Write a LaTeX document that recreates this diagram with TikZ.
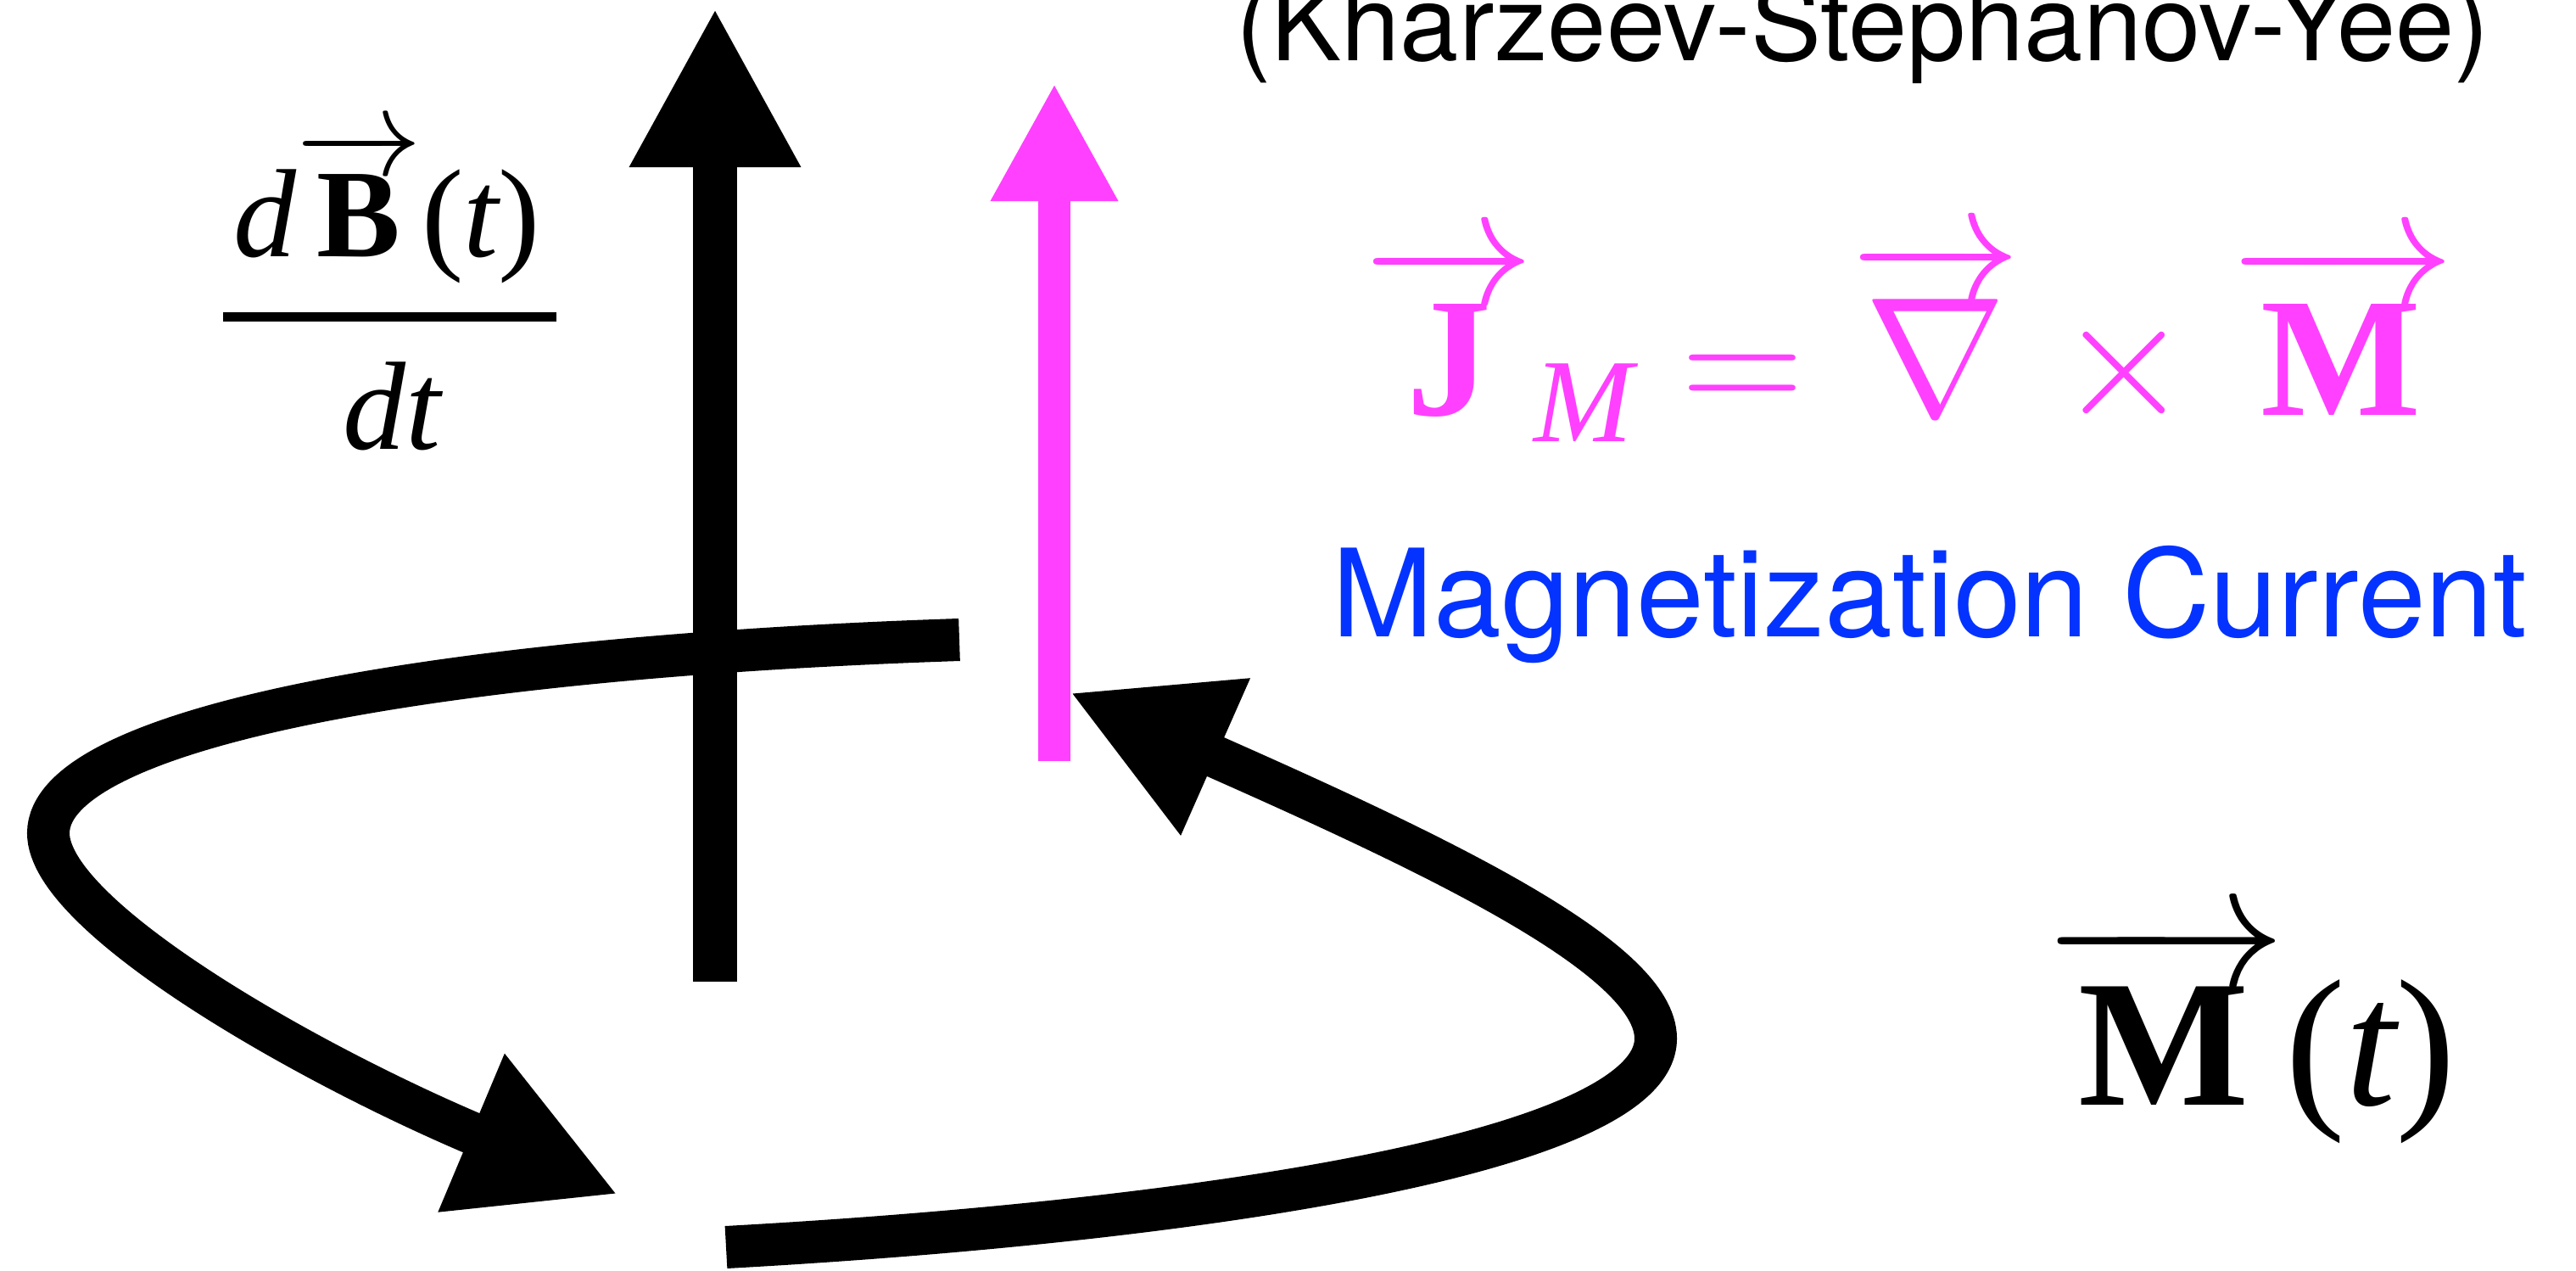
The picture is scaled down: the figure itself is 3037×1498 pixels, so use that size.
\RequirePackage{fix-cm}
\documentclass[tikz,border=0pt]{standalone}
\usepackage{amsmath}
\usepackage{fontspec}
\setmainfont{Liberation Serif}
\newfontfamily\heros{TeX Gyre Heros}
\usetikzlibrary{arrows.meta}
\definecolor{curpink}{RGB}{255,64,255}
\definecolor{curblue}{RGB}{4,51,255}

\begin{document}
\begin{tikzpicture}[
  x=0.01cm, y=-0.01cm,
  bfield/.style={line width=0.51cm, -{Triangle[length=1.88cm, width=1.88cm]}},
  jfield/.style={curpink, line width=0.375cm, -{Triangle[length=1.39cm, width=1.40cm]}},
  swirl/.style={line width=0.50cm, -{Triangle[length=1.88cm, width=1.88cm]}},
  fracbar/.style={line width=0.11cm},
  eq/.style={inner sep=0pt, anchor=base},
  lbl/.style={inner sep=0pt, anchor=base, font=\heros\fontsize{35.4}{40}\selectfont}
]
\useasboundingbox (0,0) rectangle (3037,1498);

% circulating field (two halves of the loop)
\coordinate (upR) at (1131,754);
\coordinate (lowL) at (729,1408);
\coordinate (lowS) at (856,1470);
\coordinate (upT) at (1261,816);
\draw[swirl] (upR) .. controls (500,775) and (57,860) .. (57,982)
  .. controls (57,1080) and (360,1253) .. (lowL);
\draw[swirl] (lowS) .. controls (1400,1440) and (1952,1360) .. (1952,1224)
  .. controls (1952,1130) and (1700,1010) .. (upT);

% vertical arrows
\coordinate (bbot) at (843,1157);
\coordinate (btop) at (843,9);
\draw[bfield] (bbot) -- (btop);
\coordinate (jbot) at (1243,897);
\coordinate (jtop) at (1243,98);
\draw[jfield] (jbot) -- (jtop);

% dB/dt
\node[eq, font=\fontsize{42.1}{48}\selectfont] (dBnum) at (456,303)
  {$\textit{d}\overrightarrow{\mkern2.3mu\textbf{B}\mkern2.3mu}\textup{(}\textit{t}\textup{)}$};
\node[eq, font=\fontsize{42.1}{48}\selectfont] (dBden) at (462,530) {$\textit{dt}$};
\draw[fracbar] (263,374) -- (656,374);

% J_M = curl M
\node[eq, text=curpink, font=\fontsize{56.9}{64}\selectfont] (curl) at (2251,490)
  {$\overrightarrow{\mkern3.5mu\textbf{J}\mkern3.5mu}_{\textit{M}}=\overrightarrow{\nabla}\times\overrightarrow{\mkern3.5mu\textbf{M}\mkern3.5mu}$};

% labels
\node[lbl] (ksy) at (2196,72) {(Kharzeev-Stephanov-Yee)};
\node[lbl, text=curblue, font=\heros\fontsize{40.8}{46}\selectfont] (mcur) at (2275,751) {Magnetization Current};

% M(t)
\node[eq, font=\fontsize{60.6}{68}\selectfont] (magM) at (2652,1302)
  {$\overrightarrow{\mkern3.6mu\textbf{M}\mkern3.6mu}\textup{(}\textit{t}\textup{)}$};

\end{tikzpicture}
\end{document}
